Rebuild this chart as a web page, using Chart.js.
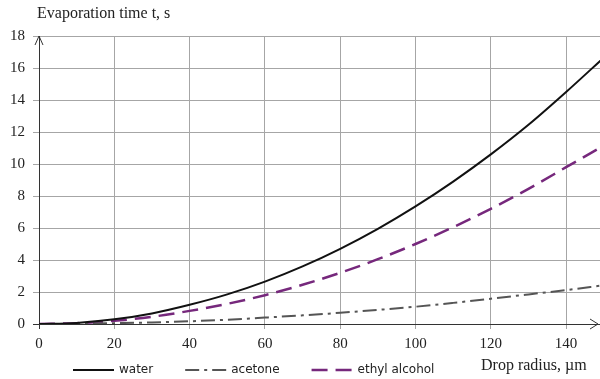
<!DOCTYPE html>
<html>
<head>
<meta charset="utf-8">
<script src="https://cdn.jsdelivr.net/npm/chart.js@4.4.0/dist/chart.umd.min.js"></script>
<style>
  html, body { margin: 0; padding: 0; background: #fff; }
  #wrap { width: 600px; height: 379px; }
</style>
</head>
<body>
<div id="wrap"><canvas id="evapChart"></canvas></div>
<script>
// Drop radius, um
const radii = [0, 10, 20, 30, 40, 50, 60, 70, 80, 90, 100, 110, 120, 130, 140, 150];
const xTickValues = [0, 20, 40, 60, 80, 100, 120, 140];

// Evaporation time, s
const waterTimes   = [0, 0.07, 0.29, 0.66, 1.2, 1.85, 2.65, 3.6, 4.7, 5.95, 7.35, 8.9, 10.6, 12.45, 14.5, 16.65];
const acetoneTimes = [0, 0.01, 0.05, 0.1, 0.17, 0.27, 0.4, 0.54, 0.7, 0.88, 1.08, 1.32, 1.58, 1.85, 2.12, 2.42];
const ethylTimes   = [0, 0.05, 0.2, 0.45, 0.82, 1.26, 1.8, 2.45, 3.2, 4.05, 5.0, 6.05, 7.2, 8.45, 9.8, 11.15];

const seriesLabels = ['water', 'acetone', 'ethyl alcohol'];
const yTitle = 'Evaporation time t, s';
const xTitle = 'Drop radius, \u00b5m';

const toPoints = (ys) => radii.map((r, i) => ({ x: r, y: ys[i] }));

const SERIF = '"Liberation Serif", "Times New Roman", serif';
const SANS = '"DejaVu Sans", Verdana, sans-serif';

// Axis arrows, titles and the bottom legend row
const decorations = {
  id: 'decorations',
  afterDraw(chart) {
    const ctx = chart.ctx;
    const area = chart.chartArea;
    ctx.save();

    // arrows
    ctx.strokeStyle = '#333';
    ctx.lineWidth = 1;
    ctx.beginPath();
    ctx.moveTo(area.left - 4, area.top + 9);
    ctx.lineTo(area.left, area.top);
    ctx.lineTo(area.left + 4, area.top + 9);
    ctx.moveTo(area.right - 10, area.bottom - 5);
    ctx.lineTo(area.right - 2, area.bottom);
    ctx.lineTo(area.right - 10, area.bottom + 5);
    ctx.stroke();

    // titles
    ctx.fillStyle = '#222';
    ctx.font = '16px ' + SERIF;
    ctx.textBaseline = 'middle';
    ctx.textAlign = 'left';
    ctx.fillText(yTitle, 37, 14);
    ctx.fillText(xTitle, 481, 366);

    // legend
    ctx.font = '12px ' + SANS;
    let x = 73;
    const y = 370;
    chart.data.datasets.forEach((ds) => {
      ctx.beginPath();
      ctx.setLineDash(ds.borderDash || []);
      ctx.strokeStyle = ds.borderColor;
      ctx.lineWidth = ds.borderWidth;
      ctx.moveTo(x, y);
      ctx.lineTo(x + 41, y);
      ctx.stroke();
      ctx.setLineDash([]);
      ctx.fillStyle = '#222';
      ctx.fillText(ds.label, x + 46, y);
      x += 46 + ctx.measureText(ds.label).width + 32;
    });
    ctx.restore();
  }
};

const ctx = document.getElementById('evapChart').getContext('2d');
new Chart(ctx, {
  type: 'line',
  data: {
    datasets: [
      {
        label: seriesLabels[0],
        data: toPoints(waterTimes),
        borderColor: '#111111',
        borderWidth: 2,
        pointRadius: 0,
        cubicInterpolationMode: 'monotone'
      },
      {
        label: seriesLabels[1],
        data: toPoints(acetoneTimes),
        borderColor: '#555555',
        borderWidth: 2,
        borderDash: [14, 5, 3, 5],
        pointRadius: 0,
        cubicInterpolationMode: 'monotone'
      },
      {
        label: seriesLabels[2],
        data: toPoints(ethylTimes),
        borderColor: '#76287c',
        borderWidth: 2.5,
        borderDash: [16, 8],
        pointRadius: 0,
        cubicInterpolationMode: 'monotone'
      }
    ]
  },
  options: {
    responsive: true,
    maintainAspectRatio: false,
    animation: false,
    layout: {
      padding: { top: 36, left: 0, right: 0, bottom: 29 }
    },
    plugins: {
      legend: { display: false },
      tooltip: { enabled: false },
      title: { display: false }
    },
    scales: {
      x: {
        type: 'linear',
        min: 0,
        max: 149,
        afterBuildTicks(axis) {
          axis.ticks = xTickValues.map(v => ({ value: v }));
        },
        afterFit(scale) {
          scale.height = 26;
        },
        ticks: {
          padding: 6,
          color: '#222',
          font: { family: SERIF, size: 15 },
          maxRotation: 0,
          autoSkip: false
        },
        grid: {
          color: (c) => (c.tick && c.tick.value === 0 ? '#333' : '#a6a6a6'),
          tickLength: 5,
          lineWidth: 1
        },
        border: { display: true, color: '#333' }
      },
      y: {
        min: 0,
        max: 18,
        afterFit(scale) {
          scale.width = 39;
        },
        ticks: {
          stepSize: 2,
          padding: 8,
          color: '#222',
          font: { family: SERIF, size: 15 }
        },
        grid: {
          color: (c) => (c.tick && c.tick.value === 0 ? '#333' : '#a6a6a6'),
          tickLength: 6,
          lineWidth: 1
        },
        border: { display: true, color: '#333' }
      }
    }
  },
  plugins: [decorations]
});
</script>
</body>
</html>
